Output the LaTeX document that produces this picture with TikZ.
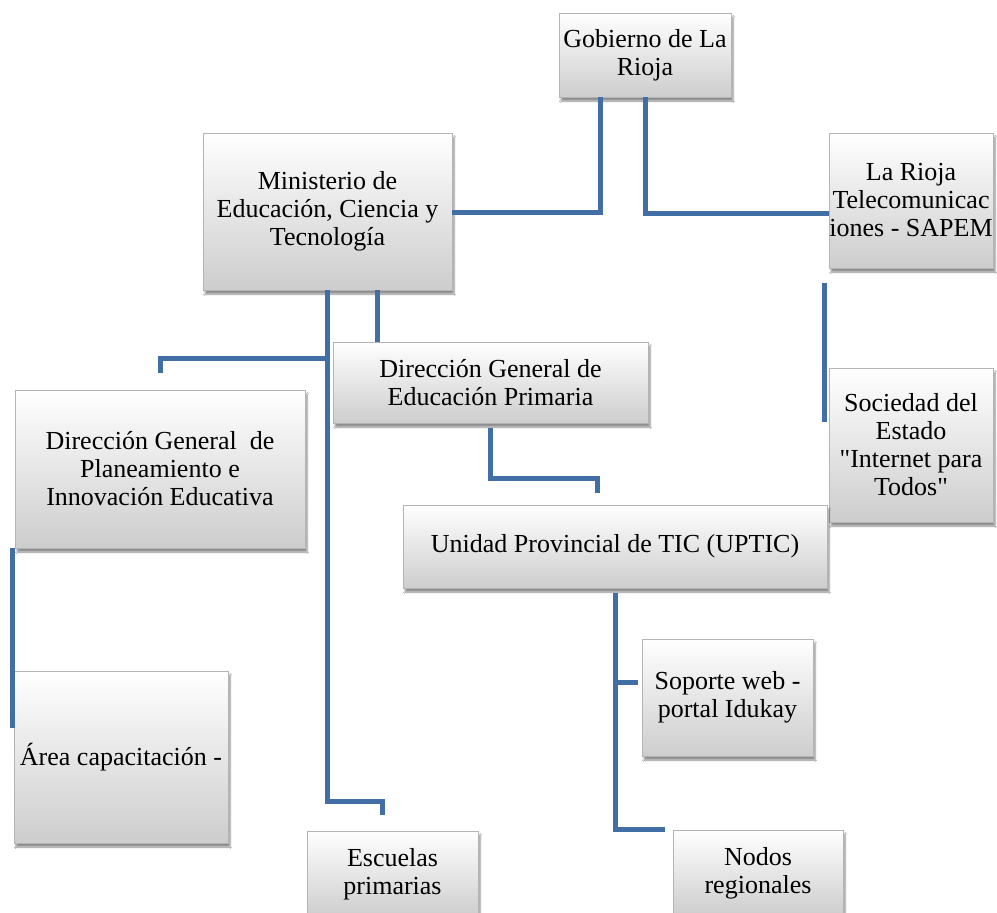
\documentclass[tikz,border=0pt]{standalone}
\usepackage{fontspec}
\setmainfont{Liberation Serif}
\newfontfamily\plainserif{Liberation Serif}
\newcommand{\sq}{{\plainserif"}}
\usetikzlibrary{shadows.blur}
\definecolor{connblue}{RGB}{66,110,166}
\definecolor{boxbottom}{RGB}{205,205,205}
\definecolor{boxedge}{RGB}{180,180,180}
\tikzset{
  orgbox/.style={rectangle, inner sep=0pt, align=center,
    top color=white, bottom color=boxbottom, draw=boxedge, line width=0.6pt,
    font=\fontsize{26}{28}\selectfont,
    blur shadow={shadow xshift=2pt, shadow yshift=-4pt, shadow opacity=45, shadow blur steps=6}},
  conn/.style={draw=connblue, line width=5pt}
}
\begin{document}
\begin{tikzpicture}[x=1pt, y=-1pt]
\clip (0,0) rectangle (997,913);
\fill[white] (0,0) rectangle (997,913);
% boxes
\node[orgbox, minimum width=172pt, minimum height=84pt] (gob) at (645,55) {Gobierno de La\\Rioja};
\node[orgbox, minimum width=249pt, minimum height=157pt] (min) at (327.5,211.5) {Ministerio de\\Educación, Ciencia y\\Tecnología};
\node[orgbox, minimum width=164pt, minimum height=135pt] (tel) at (911,200.5) {La Rioja\\Telecomunicac\\iones - SAPEM};
\node[orgbox, minimum width=164pt, minimum height=154pt] (soc) at (911,445) {Sociedad del\\Estado\\\sq Internet para\\Todos\sq};
\node[orgbox, minimum width=290pt, minimum height=158pt] (pla) at (160,469) {Dirección General~ de\\Planeamiento e\\Innovación Educativa};
\node[orgbox, minimum width=315pt, minimum height=81pt] (pri) at (490.5,382.5) {Dirección General de\\Educación Primaria};
\node[orgbox, minimum width=424pt, minimum height=83pt] (upt) at (615,546.5) {Unidad Provincial de TIC (UPTIC)};
\node[orgbox, minimum width=171pt, minimum height=117pt] (sop) at (727.5,697.5) {Soporte web -\\portal Idukay};
\node[orgbox, minimum width=170pt, minimum height=86pt] (nod) at (758,873) {Nodos\\regionales};
\node[orgbox, minimum width=214pt, minimum height=172pt] (area) at (121,757) {Área capacitación -};
\node[orgbox, minimum width=171pt, minimum height=86pt] (esc) at (392.5,874) {Escuelas\\primarias};
% connectors
\draw[conn] ([xshift=-45pt]gob.south) |- ([yshift=-1pt]min.east);
\draw[conn] (gob.south) |- ([yshift=-12.5pt]tel.west);
\draw[conn] ([xshift=50pt]min.south) -- ([xshift=50pt]min.south |- pri.north);
\draw[conn] (min.south) -- ++(0,511) -| ([xshift=-10pt,yshift=16pt]esc.north);
\draw[conn] ([yshift=17pt]pla.north) |- (min.south |- 0,358);
\draw[conn] ([xshift=-2pt]pla.south west) -- ([xshift=-1pt,yshift=29pt]area.west);
\draw[conn] ([yshift=-5pt]pri.south) -- ++(0,50) -| ([xshift=-18pt,yshift=12pt]upt.north);
\draw[conn] ([xshift=-4pt,yshift=-15pt]tel.south west) -- ([xshift=-4pt,yshift=23pt]soc.west);
\draw[conn] ([yshift=-5pt]upt.south) |- ([xshift=-4pt,yshift=15.5pt]sop.west);
\draw[conn] ([yshift=-5pt]upt.south) |- ([xshift=-8pt]nod.north west);
\end{tikzpicture}
\end{document}
